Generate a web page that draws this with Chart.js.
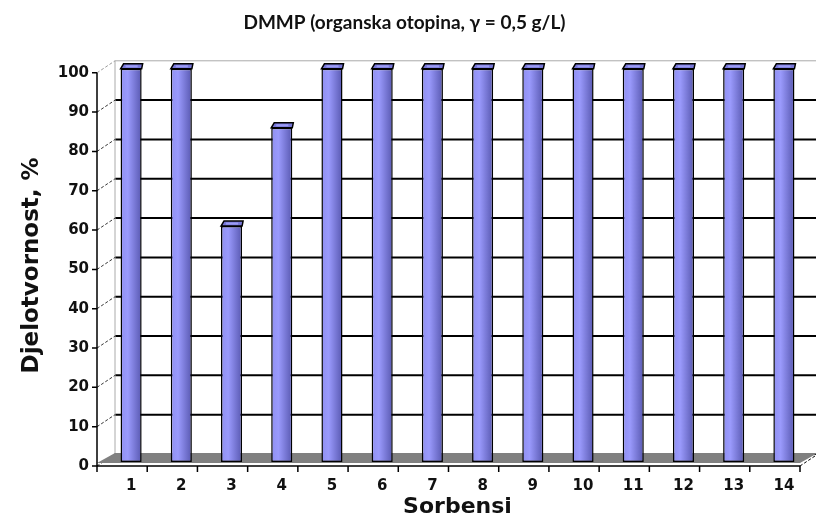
<!DOCTYPE html>
<html>
<head>
<meta charset="utf-8">
<script src="https://cdn.jsdelivr.net/npm/chart.js@4"></script>
<style>
  body { margin: 0; background: #fff; }
  #wrap { width: 816px; height: 520px; }
</style>
</head>
<body>
<div id="wrap"><canvas id="barChart" width="816" height="520"></canvas></div>
<script>
const categories = ['1', '2', '3', '4', '5', '6', '7', '8', '9', '10', '11', '12', '13', '14'];
const efficiency = [100, 100, 60, 85, 100, 100, 100, 100, 100, 100, 100, 100, 100, 100];
const yTickValues = [0, 10, 20, 30, 40, 50, 60, 70, 80, 90, 100];

// 3d look: back wall sits up/right of the bars, front axis down/left
const backDx = 9, backDy = -8;
const frontDx = -9, frontDy = 4;

const pseudo3d = {
    id: 'pseudo3d',
    beforeDatasetsDraw(chart) {
        const ctx = chart.ctx;
        const y = chart.scales.y;
        const area = chart.chartArea;
        const bl = area.left + backDx, br = area.right + backDx;
        const fl = area.left + frontDx, fr = area.right + frontDx;
        ctx.save();
        // back wall gridlines
        yTickValues.forEach(v => {
            const py = y.getPixelForValue(v) + backDy;
            ctx.beginPath();
            ctx.moveTo(bl, py);
            ctx.lineTo(br, py);
            ctx.lineWidth = v === 100 ? 1 : 2;
            ctx.strokeStyle = v === 100 ? '#aaaaaa' : '#000';
            ctx.stroke();
        });
        // back wall left edge
        ctx.beginPath();
        ctx.moveTo(bl, y.getPixelForValue(100) + backDy);
        ctx.lineTo(bl, y.getPixelForValue(0) + backDy);
        ctx.strokeStyle = '#aaaaaa';
        ctx.lineWidth = 1;
        ctx.stroke();
        // side wall connectors
        ctx.setLineDash([3, 2]);
        yTickValues.forEach(v => {
            ctx.beginPath();
            ctx.moveTo(fl, y.getPixelForValue(v) + frontDy);
            ctx.lineTo(bl, y.getPixelForValue(v) + backDy);
            ctx.strokeStyle = v === 100 ? '#999' : '#333';
            ctx.stroke();
        });
        ctx.setLineDash([]);
        // floor
        const y0 = y.getPixelForValue(0);
        ctx.beginPath();
        ctx.moveTo(bl, y0 + backDy - 1);
        ctx.lineTo(br, y0 + backDy - 1);
        ctx.lineTo(fr, y0 + 1);
        ctx.lineTo(fl, y0 + 1);
        ctx.closePath();
        ctx.fillStyle = '#808080';
        ctx.fill();
        ctx.restore();
    },
    afterDatasetsDraw(chart) {
        const ctx = chart.ctx;
        const x = chart.scales.x, y = chart.scales.y;
        const area = chart.chartArea;
        const fl = area.left + frontDx, fr = area.right + frontDx;
        ctx.save();
        // bar tops
        chart.getDatasetMeta(0).data.forEach(bar => {
            const half = bar.width / 2;
            const L = bar.x - half, R = bar.x + half, T = bar.y;
            ctx.beginPath();
            ctx.moveTo(L, T);
            ctx.lineTo(L + 3, T - 5);
            ctx.lineTo(R + 1, T - 5);
            ctx.lineTo(R, T);
            ctx.closePath();
            ctx.fillStyle = '#7878d8';
            ctx.fill();
            ctx.lineWidth = 1.5;
            ctx.strokeStyle = '#000';
            ctx.stroke();
            ctx.fillStyle = '#9c9cf4';
            ctx.fillRect(L + 5, T - 3.5, R - L - 9, 2);
        });
        // front value axis
        const fy0 = y.getPixelForValue(0) + frontDy;
        ctx.strokeStyle = '#000';
        ctx.lineWidth = 1.5;
        ctx.beginPath();
        ctx.moveTo(fl, y.getPixelForValue(100) + frontDy);
        ctx.lineTo(fl, fy0);
        yTickValues.forEach(v => {
            const py = y.getPixelForValue(v) + frontDy;
            ctx.moveTo(fl - 5, py);
            ctx.lineTo(fl, py);
        });
        // front category axis
        ctx.moveTo(fl, fy0);
        ctx.lineTo(fr, fy0);
        const step = x.getPixelForValue(1) - x.getPixelForValue(0);
        for (let i = 0; i <= categories.length; i++) {
            const px = x.getPixelForValue(0) - step / 2 + i * step + frontDx;
            ctx.moveTo(px, fy0);
            ctx.lineTo(px, fy0 + 6);
        }
        ctx.stroke();
        ctx.setLineDash([3, 2]);
        ctx.lineWidth = 1;
        ctx.beginPath();
        ctx.moveTo(fr, fy0);
        ctx.lineTo(fr + backDx - frontDx, fy0 + backDy - frontDy);
        ctx.stroke();
        ctx.restore();
    }
};

function barGradient(context) {
    const chart = context.chart;
    if (!chart.chartArea || context.dataIndex === undefined) return '#8080e0';
    const cx = chart.scales.x.getPixelForValue(context.dataIndex);
    const g = chart.ctx.createLinearGradient(cx - 11, 0, cx + 11, 0);
    g.addColorStop(0, '#8f8ff0');
    g.addColorStop(0.35, '#9a9afc');
    g.addColorStop(1, '#5656ae');
    return g;
}

new Chart(document.getElementById('barChart'), {
    type: 'bar',
    data: {
        labels: categories,
        datasets: [{
            label: 'Djelotvornost',
            data: efficiency,
            backgroundColor: barGradient,
            borderColor: '#000',
            borderWidth: 1.5,
            borderSkipped: false,
            barPercentage: 0.42,
            categoryPercentage: 1
        }]
    },
    options: {
        responsive: false,
        animation: false,
        layout: { padding: { right: 7 } },
        plugins: {
            legend: { display: false },
            tooltip: { enabled: false },
            title: {
                display: true,
                text: 'DMMP (organska otopina, \u03b3 = 0,5 g/L)',
                color: '#111',
                font: { family: 'Lato', size: 19, weight: 'bold' },
                padding: { top: 11, bottom: 35 }
            }
        },
        scales: {
            x: {
                grid: { display: false, drawTicks: false },
                border: { display: false },
                ticks: {
                    color: '#111',
                    font: { family: 'DejaVu Sans', size: 15, weight: 'bold' },
                    padding: 15,
                    maxRotation: 0
                },
                title: {
                    display: true,
                    text: 'Sorbensi',
                    color: '#111',
                    font: { family: 'DejaVu Sans', size: 22, weight: 'bold' },
                    padding: { top: 0, bottom: 0 }
                },
                afterFit(scale) { scale.height = 58; }
            },
            y: {
                min: 0,
                max: 100,
                grid: { display: false, drawTicks: false },
                border: { display: false },
                ticks: {
                    stepSize: 10,
                    color: '#111',
                    font: { family: 'DejaVu Sans', size: 15, weight: 'bold' },
                    padding: 17,
                    labelOffset: 4
                },
                title: {
                    display: true,
                    text: 'Djelotvornost, %',
                    color: '#111',
                    font: { family: 'DejaVu Sans', size: 23, weight: 'bold' },
                    padding: { top: 18, bottom: 0 }
                },
                afterFit(scale) { scale.width = 106; }
            }
        }
    },
    plugins: [pseudo3d]
});
</script>
</body>
</html>
